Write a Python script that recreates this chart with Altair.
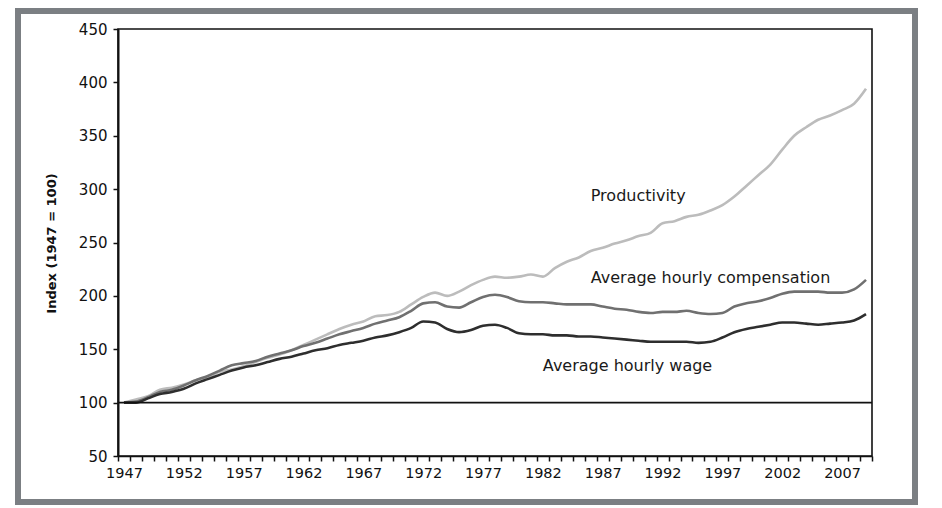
import altair as alt
import pandas as pd

years = list(range(1947, 2010))

productivity = [100, 103, 106, 112, 114, 117, 121, 124, 129, 131,
                134, 138, 142, 145, 149, 154, 159, 164, 169, 173,
                176, 181, 182, 185, 192, 199, 203, 200, 204, 210,
                215, 218, 217, 218, 220, 218, 226, 232, 236, 242,
                245, 249, 252, 256, 259, 268, 270, 274, 276, 280,
                285, 293, 303, 313, 323, 337, 350, 358, 365, 369,
                374, 380, 394]

compensation = [100, 101, 105, 110, 112, 116, 121, 125, 130, 135,
                137, 139, 143, 146, 149, 153, 156, 160, 164, 167,
                170, 174, 177, 180, 186, 193, 194, 190, 189, 194,
                199, 201, 199, 195, 194, 194, 193, 192, 192, 192,
                190, 188, 187, 185, 184, 185, 185, 186, 184, 183,
                184, 190, 193, 195, 198, 202, 204, 204, 204, 203,
                203, 206, 215]

wage = [100, 100, 104, 108, 110, 113, 118, 122, 126, 130,
        133, 135, 138, 141, 143, 146, 149, 151, 154, 156,
        158, 161, 163, 166, 170, 176, 175, 169, 166, 168,
        172, 173, 170, 165, 164, 164, 163, 163, 162, 162,
        161, 160, 159, 158, 157, 157, 157, 157, 156, 157,
        161, 166, 169, 171, 173, 175, 175, 174, 173, 174,
        175, 177, 183]

series_names = ["Productivity", "Average hourly compensation", "Average hourly wage"]
series_colors = ["#bcbcbc", "#707070", "#2e2e2e"]

label_texts = ["Productivity", "Average hourly compensation", "Average hourly wage"]
label_years = [1986, 1986, 1982]
label_values = [289, 212.5, 130]

y_ticks = [50, 100, 150, 200, 250, 300, 350, 400, 450]

rows = []
for name, vals in zip(series_names, [productivity, compensation, wage]):
    for yr, v in zip(years, vals):
        rows.append({"year": yr, "value": v, "series": name})
df = pd.DataFrame(rows)

labels_df = pd.DataFrame({"year": label_years, "value": label_values, "text": label_texts})
base_df = pd.DataFrame({"value": [100]})
frame_df = pd.DataFrame({"a": [0]})

FONT = "DejaVu Sans"

x_enc = alt.X(
    "year:O",
    scale=alt.Scale(domain=years, paddingInner=0, paddingOuter=0),
    axis=alt.Axis(
        title=None,
        labelAngle=0,
        labelOverlap=False,
        labelExpr="(toNumber(datum.value) - 1947) % 5 == 0 ? datum.label : ''",
        tickBand="extent",
        tickSize=5,
        tickColor="#111111",
        tickWidth=1.5,
        domainColor="#111111",
        domainWidth=1.5,
        labelFont=FONT,
        labelFontSize=14.5,
        labelColor="#111111",
        labelPadding=5,
        grid=False,
    ),
)

y_scale = alt.Scale(domain=[50, 450], nice=False, zero=False)
y_axis = alt.Axis(
    title="Index (1947 = 100)",
    values=y_ticks,
    tickSize=5,
    tickColor="#111111",
    tickWidth=1.5,
    domainColor="#111111",
    domainWidth=2,
    labelFont=FONT,
    labelFontSize=15,
    labelColor="#111111",
    labelPadding=6,
    titleFont=FONT,
    titleFontSize=13,
    titleFontWeight="bold",
    titleColor="#111111",
    titleAngle=270,
    titleX=-67,
    titleY=214,
    titleAlign="center",
    titleBaseline="middle",
    grid=False,
)

lines = alt.Chart(df).mark_line(strokeWidth=2.6, interpolate="monotone").encode(
    x=x_enc,
    y=alt.Y("value:Q", scale=y_scale, axis=y_axis),
    color=alt.Color("series:N", scale=alt.Scale(domain=series_names, range=series_colors), legend=None),
    order=alt.Order("year:O"),
)

base_rule = alt.Chart(base_df).mark_rule(color="#111111", strokeWidth=1.6).encode(
    y=alt.Y("value:Q", scale=y_scale)
)

labels = alt.Chart(labels_df).mark_text(
    align="left", baseline="alphabetic", font=FONT, fontSize=16, color="#1a1a1a"
).encode(
    x=alt.X("year:O", scale=alt.Scale(domain=years, paddingInner=0, paddingOuter=0)),
    y=alt.Y("value:Q", scale=y_scale),
    text="text:N",
)

frame = alt.Chart(frame_df).mark_rect(
    filled=False, stroke="#7b7f83", strokeWidth=6, clip=False
).encode(
    x=alt.value(-100),
    x2=alt.value(797),
    y=alt.value(-18),
    y2=alt.value(473),
)

chart = alt.layer(lines, base_rule, labels, frame).properties(
    width=754,
    height=427,
    padding={"left": 110, "top": 21, "right": 50, "bottom": 49},
    autosize=alt.AutoSizeParams(type="none"),
    background="white",
).configure_view(
    stroke="#111111", strokeWidth=1.6
)

chart.save("out.html", embed_options={"renderer": "svg", "actions": False})
